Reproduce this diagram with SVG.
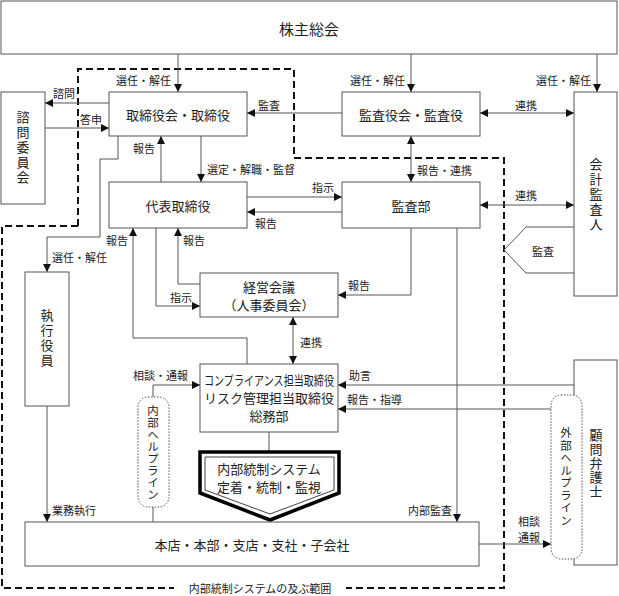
<svg xmlns="http://www.w3.org/2000/svg" width="619" height="596" viewBox="0 0 619 596">
<style>
.box{fill:#fff;stroke:#555;stroke-width:1}
.ln{fill:none;stroke:#555;stroke-width:1}
text{font-family:"Noto Sans CJK JP","Noto Sans",sans-serif;fill:#222;dominant-baseline:central}
.s{font-size:11px}
.m{font-size:13px;text-anchor:middle}
.v{font-size:13px;text-anchor:middle;writing-mode:vertical-rl}
.vs{font-size:11.5px;text-anchor:middle;writing-mode:vertical-rl}
.dash{fill:none;stroke:#111;stroke-width:2;stroke-dasharray:7 4}
.dot{fill:#fff;stroke:#555;stroke-width:1;stroke-dasharray:1.5 1.5}
</style>
<defs>
<marker id="a" markerUnits="userSpaceOnUse" markerWidth="9" markerHeight="8" refX="8" refY="4" orient="auto-start-reverse">
<path d="M0,0 L8,4 L0,8 z" fill="#111"/>
</marker>
</defs>
<rect width="619" height="596" fill="#fff"/>

<!-- dashed scope boundary -->
<g id="scope">
<path class="dash" d="M78,226 V69 H294 V158 H504 V588 H2 V226 H78"/>
<rect x="174" y="581" width="172" height="14" fill="#fff"/>
<text class="s" x="260" y="588" text-anchor="middle">内部統制システムの及ぶ範囲</text>
</g>

<g id="connectors">
<path class="ln" d="M178,54 V92" marker-end="url(#a)"/>
<path class="ln" d="M411,54 V92" marker-end="url(#a)"/>
<path class="ln" d="M597,54 V92" marker-end="url(#a)"/>
<path class="ln" d="M109,103 H45" marker-end="url(#a)"/>
<path class="ln" d="M45,128 H109" marker-end="url(#a)"/>
<path class="ln" d="M342,113 H247" marker-end="url(#a)"/>
<path class="ln" d="M480,113 H574" marker-start="url(#a)" marker-end="url(#a)"/>
<path class="ln" d="M411,136 V182" marker-start="url(#a)" marker-end="url(#a)"/>
<path class="ln" d="M480,205 H574" marker-start="url(#a)" marker-end="url(#a)"/>
<path class="ln" d="M161,182 V136" marker-end="url(#a)"/>
<path class="ln" d="M201,136 V182" marker-end="url(#a)"/>
<path class="ln" d="M247,197 H342" marker-end="url(#a)"/>
<path class="ln" d="M342,212 H247" marker-end="url(#a)"/>
<path class="ln" d="M118,136 V159 H100 V237 H47 V272" marker-end="url(#a)"/>
<path class="ln" d="M200,284 H178 V228" marker-end="url(#a)"/>
<path class="ln" d="M156,228 V306 H200" marker-end="url(#a)"/>
<path class="ln" d="M247,364 V338 H133 V228" marker-end="url(#a)"/>
<path class="ln" d="M293,317 V364" marker-start="url(#a)" marker-end="url(#a)"/>
<path class="ln" d="M411,228 V295 H338" marker-end="url(#a)"/>
<path class="ln" d="M457,228 V522" marker-end="url(#a)"/>
<path class="ln" d="M574,385 H338" marker-end="url(#a)"/>
<path class="ln" d="M551,409 H338" marker-end="url(#a)"/>
<path class="ln" d="M153,397 V385 H200" marker-end="url(#a)"/>
<path class="ln" d="M153,507 V522"/>
<path class="ln" d="M47,406 V522" marker-end="url(#a)"/>
<path class="ln" d="M479,544 H551" marker-end="url(#a)"/>
<path class="ln" d="M574,227 H526 L504,250 L526,273 H574"/>
<path class="ln" d="M269,432 V452"/>

<text class="s" x="171" y="80" text-anchor="end">選任・解任</text>
<text class="s" x="405" y="80" text-anchor="end">選任・解任</text>
<text class="s" x="591" y="80" text-anchor="end">選任・解任</text>
<text class="s" x="53" y="93">諮問</text>
<text class="s" x="80" y="119">答申</text>
<text class="s" x="258" y="105">監査</text>
<text class="s" x="515" y="105">連携</text>
<text class="s" x="417" y="170">報告・連携</text>
<text class="s" x="515" y="195">連携</text>
<text class="s" x="155" y="148" text-anchor="end">報告</text>
<text class="s" x="207" y="169">選定・解職・監督</text>
<text class="s" x="312" y="187">指示</text>
<text class="s" x="255" y="223">報告</text>
<text class="s" x="52" y="257">選任・解任</text>
<text class="s" x="183" y="240">報告</text>
<text class="s" x="170" y="297">指示</text>
<text class="s" x="128" y="240" text-anchor="end">報告</text>
<text class="s" x="300" y="342">連携</text>
<text class="s" x="348" y="285">報告</text>
<text class="s" x="452" y="510" text-anchor="end">内部監査</text>
<text class="s" x="349" y="375">助言</text>
<text class="s" x="347" y="399">報告・指導</text>
<text class="s" x="133" y="375">相談・通報</text>
<text class="s" x="52" y="510">業務執行</text>
<text class="s" x="518" y="521" font-size="10.5">相談</text>
<text class="s" x="518" y="537" font-size="10.5">通報</text>
<text class="s" x="532" y="251">監査</text>
</g>

<g id="shareholders">
<rect class="box" x="1" y="1" width="616" height="53"/>
<text x="309" y="28" font-size="15" text-anchor="middle">株主総会</text>
</g>
<g id="advisory">
<rect class="box" x="1" y="92" width="44" height="112"/>
<text class="v" x="23" y="148" letter-spacing="2">諮問委員会</text>
</g>
<g id="board">
<rect class="box" x="109" y="92" width="138" height="44"/>
<text class="m" x="178" y="114">取締役会・取締役</text>
</g>
<g id="auditors">
<rect class="box" x="342" y="92" width="138" height="44"/>
<text class="m" x="411" y="114">監査役会・監査役</text>
</g>
<g id="accounting-auditor">
<rect class="box" x="574" y="92" width="43" height="204"/>
<text class="v" x="596" y="195" letter-spacing="2">会計監査人</text>
</g>
<g id="ceo">
<rect class="box" x="109" y="182" width="138" height="46"/>
<text class="m" x="178" y="205">代表取締役</text>
</g>
<g id="audit-dept">
<rect class="box" x="342" y="182" width="138" height="46"/>
<text class="m" x="411" y="205">監査部</text>
</g>
<g id="mgmt-meeting">
<rect class="box" x="200" y="273" width="138" height="44"/>
<text class="m" x="269" y="286">経営会議</text>
<text class="m" x="269" y="304">（人事委員会）</text>
</g>
<g id="officers">
<rect class="box" x="25" y="272" width="44" height="134"/>
<text class="v" x="47" y="339" letter-spacing="2">執行役員</text>
</g>
<g id="compliance">
<rect class="box" x="200" y="364" width="138" height="68"/>
<text class="m" x="269" y="379" font-size="10" textLength="130" lengthAdjust="spacingAndGlyphs">コンプライアンス担当取締役</text>
<text class="m" x="269" y="397" font-size="12" textLength="130">リスク管理担当取締役</text>
<text class="m" x="269" y="415" font-size="12.5">総務部</text>
</g>
<g id="internal-helpline">
<rect class="dot" x="138" y="397" width="31" height="110" rx="10"/>
<text class="vs" x="153" y="453" letter-spacing="0.5">内部ヘルプライン</text>
</g>
<g id="lawyer">
<rect class="box" x="574" y="360" width="43" height="205"/>
<text class="v" x="596" y="464" letter-spacing="1">顧問弁護士</text>
</g>
<g id="external-helpline">
<rect class="dot" x="551" y="395" width="31" height="164" rx="10"/>
<text class="vs" x="566" y="477" letter-spacing="1">外部ヘルプライン</text>
</g>
<g id="ics">
<polygon points="200,452 339,452 339,493 270,520 200,493" fill="#fff" stroke="#000" stroke-width="3.5" stroke-linejoin="miter"/>
<polygon points="205,457 334,457 334,490 270,514 205,490" fill="none" stroke="#444" stroke-width="1"/>
<text class="m" x="269" y="468">内部統制システム</text>
<text class="m" x="269" y="486">定着・統制・監視</text>
</g>
<g id="branches">
<rect class="box" x="25" y="522" width="454" height="44"/>
<text class="m" x="252" y="544">本店・本部・支店・支社・子会社</text>
</g>
</svg>
